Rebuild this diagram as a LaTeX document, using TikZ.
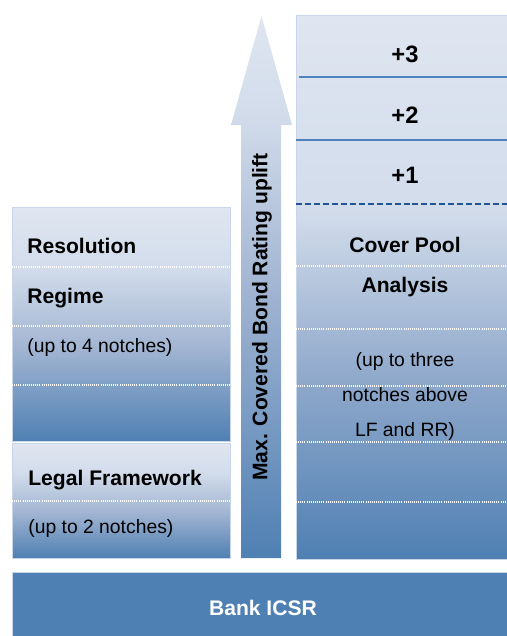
\documentclass[tikz,border=0pt]{standalone}
\usepackage{fontspec}
\setmainfont{Liberation Sans}
\usepackage{xcolor}
\usetikzlibrary{calc}
\definecolor{paleblue}{HTML}{DFE6F1}
\definecolor{softblue}{HTML}{D2DCEB}
\definecolor{midblue}{HTML}{A2B5D2}
\definecolor{deepmid}{HTML}{8DA7CA}
\definecolor{steelblue}{HTML}{4F80B3}
\definecolor{ruleblue}{HTML}{4F81BD}
\definecolor{dashblue}{HTML}{1F5596}
\definecolor{edgeblue}{HTML}{C9D6EA}
\pgfdeclareverticalshading{blockfade}{100bp}{color(0bp)=(steelblue); color(25bp)=(steelblue); color(45bp)=(midblue); color(62bp)=(softblue); color(75bp)=(paleblue); color(100bp)=(paleblue)}
\pgfdeclareverticalshading{columnfade}{100bp}{color(0bp)=(steelblue); color(25bp)=(steelblue); color(41bp)=(deepmid); color(57bp)=(softblue); color(75bp)=(paleblue); color(100bp)=(paleblue)}
\pgfdeclareverticalshading{arrowfade}{100bp}{color(0bp)=(steelblue); color(25bp)=(steelblue); color(50bp)=(midblue); color(66bp)=(softblue); color(75bp)=(paleblue); color(100bp)=(paleblue)}

\begin{document}
\begin{tikzpicture}[x=0.02cm, y=-0.02cm,
  block/.style={shade, shading=blockfade, draw=edgeblue, line width=0.4pt, inner sep=0pt, outer sep=0pt, anchor=north west},
  hd/.style={font=\fontsize{12}{14}\selectfont\bfseries, inner sep=0pt},
  sub/.style={font=\fontsize{11}{13}\selectfont, inner sep=0pt},
  notch/.style={font=\fontsize{13.5}{16}\selectfont\bfseries, inner sep=0pt, anchor=base},
  dots/.style={white, line width=0.8pt, dash pattern=on 0.5pt off 0.7pt}]
\useasboundingbox (0,0) rectangle (507,636);
\node (rr) [block, minimum width=4.36cm, minimum height=4.68cm] at (12,207) {};
\node (lf) [block, minimum width=4.36cm, minimum height=2.30cm] at (12,443) {};
\node (cpa) [block, shading=columnfade, minimum width=4.30cm, minimum height=10.88cm] at (296,15) {};
\node (bank) [fill=steelblue, draw=edgeblue, line width=0.4pt, inner sep=0pt, outer sep=0pt, anchor=north west, minimum width=9.98cm, minimum height=1.36cm] at (12,572) {};
\shade[shading=arrowfade] (241,558) -- (241,125) -- (231,125) -- (261.5,16) -- (292,125) -- (281,125) -- (281,558) -- cycle;
\foreach \y in {267,326,385} \draw[dots] (rr.west |- 0,\y) -- (rr.east |- 0,\y);
\draw[dots] (lf.west |- 0,501) -- (lf.east |- 0,501);
\foreach \y in {266,329,386,442,502} \draw[dots] (cpa.west |- 0,\y) -- (cpa.east |- 0,\y);
\draw[ruleblue, line width=0.85pt] (299,77) -- (cpa.east |- 0,77);
\draw[ruleblue, line width=0.85pt] (cpa.west |- 0,140) -- (cpa.east |- 0,140);
\draw[dashblue, line width=1.2pt, dash pattern=on 3.4pt off 1.7pt] (cpa.west |- 0,204) -- (cpa.east |- 0,204);
\node (res) [hd, anchor=base west] at (27,253) {Resolution};
\node (regime) [hd, anchor=base west] at (27,303) {Regime};
\node (up4) [sub, anchor=base west] at (27,352) {(up to 4 notches)};
\node (legal) [hd, anchor=base west] at (28,485) {Legal Framework};
\node (up2) [sub, anchor=base west] at (28,533) {(up to 2 notches)};
\node (p3) [notch] at (405,62) {+3};
\node (p2) [notch] at (405,123) {+2};
\node (p1) [notch] at (405,183) {+1};
\node (cover) [hd, anchor=base] at (405,252) {Cover Pool};
\node (analysis) [hd, anchor=base] at (405,292) {Analysis};
\node (up3) [sub, anchor=base] at (405,366) {(up to three};
\node (above) [sub, anchor=base] at (405,401) {notches above};
\node (lfrr) [sub, anchor=base] at (405,436) {LF and RR)};
\node (uplift) [hd, rotate=90] at (262,317) {Max. Covered Bond Rating uplift};
\node (icsr) [hd, text=white, anchor=base] at (263,615) {Bank ICSR};
\end{tikzpicture}
\end{document}
